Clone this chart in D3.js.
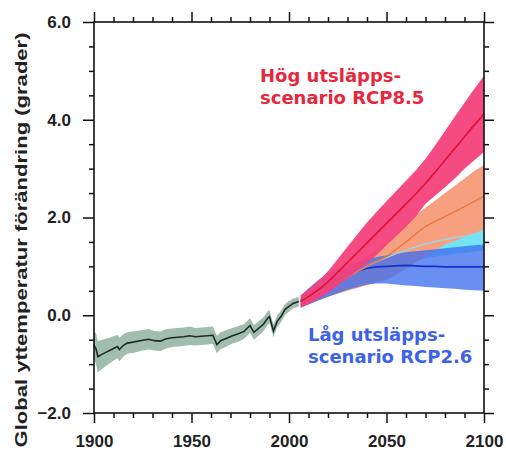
<!DOCTYPE html>
<html>
<head>
<meta charset="utf-8">
<script src="https://cdn.jsdelivr.net/npm/d3@7"></script>
<style>
  body { margin: 0; background: #fff; }
  svg { display: block; }
</style>
</head>
<body>
<div id="chart"></div>
<script>
// Historical observations / model hindcast
var histYears = [1900, 1901, 1902, 1904, 1906, 1908, 1910, 1912, 1913, 1915, 1917, 1920, 1925, 1928, 1931, 1934, 1937, 1940, 1943, 1946, 1949, 1952, 1955, 1958, 1961, 1963, 1965, 1968, 1971, 1974, 1977, 1980, 1982, 1985, 1987, 1989, 1990, 1992, 1994, 1996, 1998, 2000, 2002, 2005];
var histMean = [-0.62, -0.68, -0.85, -0.80, -0.76, -0.72, -0.68, -0.64, -0.70, -0.62, -0.57, -0.55, -0.51, -0.49, -0.52, -0.53, -0.48, -0.46, -0.45, -0.44, -0.42, -0.44, -0.43, -0.42, -0.41, -0.60, -0.52, -0.47, -0.42, -0.38, -0.33, -0.21, -0.35, -0.25, -0.18, -0.06, -0.03, -0.32, -0.12, -0.02, 0.12, 0.18, 0.24, 0.28];
var histSpread = [0.30, 0.31, 0.32, 0.30, 0.28, 0.26, 0.25, 0.24, 0.24, 0.23, 0.22, 0.22, 0.21, 0.21, 0.20, 0.20, 0.20, 0.19, 0.19, 0.19, 0.19, 0.18, 0.18, 0.18, 0.18, 0.18, 0.17, 0.17, 0.16, 0.16, 0.15, 0.15, 0.15, 0.15, 0.14, 0.14, 0.13, 0.13, 0.12, 0.12, 0.11, 0.11, 0.10, 0.10];

// Scenario projections
var futYears = [2006, 2010, 2015, 2020, 2025, 2030, 2035, 2040, 2045, 2050, 2055, 2060, 2065, 2070, 2075, 2080, 2085, 2090, 2095, 2100];

var rcp85Mean = [0.28, 0.38, 0.52, 0.68, 0.88, 1.08, 1.28, 1.48, 1.68, 1.88, 2.08, 2.28, 2.48, 2.70, 2.93, 3.17, 3.41, 3.65, 3.89, 4.12];
var rcp85Low  = [0.15, 0.23, 0.34, 0.46, 0.61, 0.76, 0.91, 1.06, 1.24, 1.43, 1.62, 1.81, 2.02, 2.28, 2.45, 2.62, 2.80, 3.00, 3.17, 3.34];
var rcp85High = [0.41, 0.53, 0.70, 0.90, 1.15, 1.40, 1.65, 1.90, 2.12, 2.33, 2.54, 2.75, 2.96, 3.20, 3.48, 3.77, 4.06, 4.35, 4.63, 4.90];

var rcp60Mean = [0.28, 0.34, 0.44, 0.55, 0.66, 0.78, 0.89, 1.00, 1.10, 1.20, 1.35, 1.50, 1.66, 1.82, 1.92, 2.02, 2.12, 2.22, 2.33, 2.44];
var rcp60Low  = [0.18, 0.22, 0.30, 0.38, 0.44, 0.50, 0.56, 0.62, 0.67, 0.72, 0.83, 0.95, 1.08, 1.20, 1.32, 1.45, 1.52, 1.60, 1.68, 1.75];
var rcp60High = [0.38, 0.48, 0.60, 0.72, 0.84, 0.95, 1.08, 1.20, 1.33, 1.48, 1.65, 1.85, 2.05, 2.20, 2.35, 2.50, 2.65, 2.80, 2.95, 3.07];

var rcp45Mean = [0.28, 0.36, 0.47, 0.58, 0.69, 0.80, 0.90, 1.00, 1.10, 1.18, 1.26, 1.33, 1.40, 1.46, 1.51, 1.55, 1.59, 1.62, 1.65, 1.67];
var rcp45Low  = [0.20, 0.27, 0.36, 0.45, 0.55, 0.64, 0.73, 0.82, 0.90, 0.97, 1.03, 1.08, 1.12, 1.16, 1.20, 1.23, 1.26, 1.28, 1.30, 1.32];
var rcp45High = [0.36, 0.45, 0.58, 0.70, 0.82, 0.94, 1.05, 1.15, 1.26, 1.36, 1.45, 1.53, 1.60, 1.66, 1.71, 1.76, 1.80, 1.83, 1.86, 1.88];

var rcp26Mean = [0.28, 0.38, 0.50, 0.62, 0.73, 0.82, 0.90, 0.96, 0.99, 1.00, 1.01, 1.02, 1.01, 1.00, 1.00, 0.99, 0.99, 0.99, 0.99, 0.99];
var rcp26Low  = [0.16, 0.22, 0.30, 0.38, 0.45, 0.52, 0.58, 0.63, 0.65, 0.65, 0.63, 0.61, 0.60, 0.58, 0.57, 0.55, 0.54, 0.52, 0.51, 0.50];
var rcp26High = [0.40, 0.55, 0.72, 0.85, 0.95, 1.03, 1.09, 1.14, 1.19, 1.23, 1.26, 1.29, 1.31, 1.33, 1.35, 1.37, 1.39, 1.41, 1.43, 1.45];

// Axis ticks
var xMajor = [1900, 1950, 2000, 2050, 2100];
var xMinor = d3.range(1910, 2100, 10).filter(v => v % 50 !== 0);
var yMajor = [-2, 0, 2, 4, 6];
var yMinor = d3.range(-1.5, 6, 0.5).filter(v => v % 2 !== 0);

var svgWidth = 506;
var svgHeight = 452;

var margin = { top: 22, right: 22, bottom: 39, left: 94 };
var plotLeft = margin.left;
var plotRight = svgWidth - margin.right;
var plotTop = margin.top;
var plotBottom = svgHeight - margin.bottom;

var svg = d3.select("#chart")
  .append("svg")
  .attr("width", svgWidth)
  .attr("height", svgHeight);

var x = d3.scaleLinear()
  .domain([1900, 2100])
  .range([plotLeft, plotRight]);

var y = d3.scaleLinear()
  .domain([-2, 6])
  .range([plotBottom, plotTop]);

// zip year arrays into point objects
function pts(years, mean, lo, hi) {
  return years.map(function (yr, i) {
    return { year: yr, mean: mean[i], lo: lo[i], hi: hi[i] };
  });
}

var area = d3.area()
  .x(d => x(d.year))
  .y0(d => y(d.lo))
  .y1(d => y(d.hi));

var line = d3.line()
  .x(d => x(d.year))
  .y(d => y(d.mean));

var hist = pts(histYears, histMean,
  histMean.map((m, i) => m - histSpread[i]),
  histMean.map((m, i) => m + histSpread[i]));
var r85 = pts(futYears, rcp85Mean, rcp85Low, rcp85High);
var r60 = pts(futYears, rcp60Mean, rcp60Low, rcp60High);
var r45 = pts(futYears, rcp45Mean, rcp45Low, rcp45High);
var r26 = pts(futYears, rcp26Mean, rcp26Low, rcp26High);

var plot = svg.append("g");

// historical
plot.append("path").attr("d", area(hist)).attr("fill", "#a0bdb0");
plot.append("path").attr("d", line(hist))
  .attr("fill", "none").attr("stroke", "#1e2b24").attr("stroke-width", 1.6);

// scenario bands (blue drawn see-through over the salmon one -> purple overlap)
plot.append("path").attr("d", area(r45)).attr("fill", "#72e4f4");
plot.append("path").attr("d", area(r60)).attr("fill", "#f6a080");
plot.append("path").attr("d", area(r26)).attr("fill", "#3f6ff0").attr("opacity", 0.78);

plot.append("path").attr("d", line(r26))
  .attr("fill", "none").attr("stroke", "#1034cc").attr("stroke-width", 1.6);
plot.append("path").attr("d", line(r45))
  .attr("fill", "none").attr("stroke", "#9cd4e4").attr("stroke-width", 1.4);
plot.append("path").attr("d", line(r60))
  .attr("fill", "none").attr("stroke", "#ec7440").attr("stroke-width", 1.4);

plot.append("path").attr("d", area(r85)).attr("fill", "#f2407a").attr("opacity", 0.94);
plot.append("path").attr("d", line(r85))
  .attr("fill", "none").attr("stroke", "#e01030").attr("stroke-width", 1.6);

// axes
function addAxis(axisFn, scale, vals, size, pos, labels) {
  var ax = axisFn(scale)
    .tickValues(vals)
    .tickSize(size)
    .tickSizeOuter(0)
    .tickFormat(labels ? labels : "");
  var g = svg.append("g")
    .attr("transform", pos)
    .call(ax);
  g.select(".domain").remove();
  g.selectAll(".tick line").attr("stroke", "#111").attr("stroke-width", 1.5);
  g.selectAll(".tick text")
    .attr("fill", "#222")
    .style("font-family", "'Liberation Sans', Arial, sans-serif")
    .style("font-weight", "bold")
    .style("font-size", "17px");
  return g;
}

addAxis(d3.axisBottom, x, xMajor, 10, `translate(0,${plotBottom})`, d3.format("d"))
  .selectAll(".tick text").attr("y", 22);
addAxis(d3.axisBottom, x, xMinor, 5, `translate(0,${plotBottom})`);
addAxis(d3.axisTop, x, xMajor, 10, `translate(0,${plotTop})`);
addAxis(d3.axisTop, x, xMinor, 5, `translate(0,${plotTop})`);
addAxis(d3.axisLeft, y, yMajor, 11, `translate(${plotLeft},0)`, d3.format(".1f"))
  .selectAll(".tick text").attr("x", -23);
addAxis(d3.axisLeft, y, yMinor, 5, `translate(${plotLeft},0)`);
addAxis(d3.axisRight, y, yMajor, 10, `translate(${plotRight},0)`);
addAxis(d3.axisRight, y, yMinor, 5, `translate(${plotRight},0)`);

// frame
svg.append("rect")
  .attr("x", plotLeft).attr("y", plotTop)
  .attr("width", plotRight - plotLeft).attr("height", plotBottom - plotTop)
  .attr("fill", "none").attr("stroke", "#111").attr("stroke-width", 1.6);

// y axis title
svg.append("text")
  .attr("transform", "translate(27,240) rotate(-90)")
  .attr("text-anchor", "middle")
  .attr("textLength", 415)
  .attr("lengthAdjust", "spacingAndGlyphs")
  .style("font-family", "'Liberation Sans', Arial, sans-serif")
  .style("font-weight", "bold")
  .style("font-size", "17px")
  .attr("fill", "#222")
  .text("Global yttemperatur förändring (grader)");

// scenario labels
function label(lines, xPos, yPos, color) {
  var t = svg.append("text")
    .attr("x", xPos).attr("y", yPos)
    .attr("fill", color)
    .style("font-family", "'DejaVu Sans', Verdana, sans-serif")
    .style("font-weight", "bold")
    .style("font-size", "18px");
  lines.forEach(function (s, i) {
    t.append("tspan").attr("x", xPos).attr("dy", i === 0 ? 0 : 22).text(s);
  });
}

label(["Hög utsläpps-", "scenario RCP8.5"], 260, 82, "#e8263c");
label(["Låg utsläpps-", "scenario RCP2.6"], 308, 341, "#3d62ea");
</script>
</body>
</html>
